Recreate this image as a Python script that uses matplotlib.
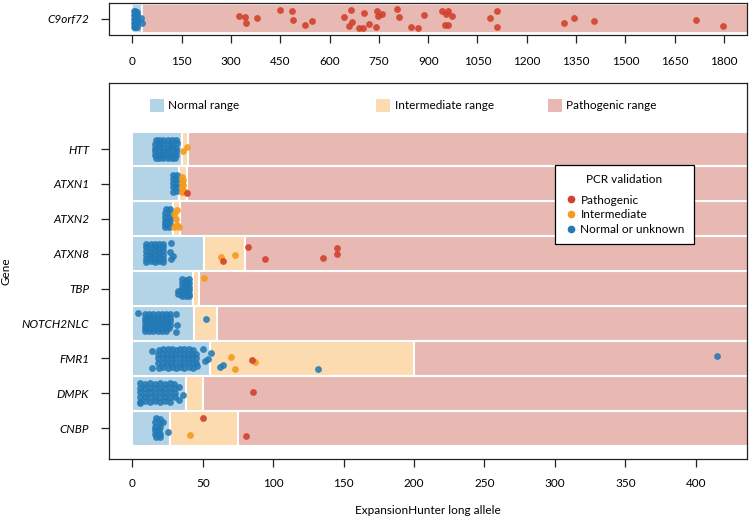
import matplotlib
matplotlib.use("Agg")
import matplotlib.pyplot as plt
from matplotlib.lines import Line2D
from matplotlib.patches import Rectangle

plt.rcParams['font.family'] = ['Lato', 'DejaVu Sans']

# ---------------- data ----------------
genes = ["CNBP", "DMPK", "FMR1", "NOTCH2NLC", "TBP", "ATXN8", "ATXN2", "ATXN1", "HTT"]
normal_max = [27, 38, 55, 44, 43, 51, 29, 33, 35.5]
intermediate_max = [75, 50, 200, 60, 47, 80, 34, 39, 39.5]

c9_gene = "C9orf72"
c9_normal_max = 30
c9_intermediate_max = 30

x_ticks_main = [0, 50, 100, 150, 200, 250, 300, 350, 400]
x_ticks_c9 = [0, 150, 300, 450, 600, 750, 900, 1050, 1200, 1350, 1500, 1650, 1800]

# (repeat length, vertical jitter) per gene and PCR category
c9_blue = [(4, 0.25), (9, 0.26), (13, 0.24), (5, 0.13), (9, 0.12), (13, 0.14),
           (4, 0.0), (9, 0.01), (13, -0.01), (5, -0.14), (9, -0.13), (13, -0.15),
           (4, -0.28), (9, -0.27), (13, -0.28), (27, 0.04), (29, -0.13)]
c9_red = [(325, 0.09), (344, 0.06), (347, -0.15), (380, 0.02), (448, 0.29), (485, 0.26),
          (490, -0.04), (526, -0.21), (548, -0.09), (645, 0.05), (666, 0.29), (669, -0.12),
          (660, -0.25), (688, -0.30), (703, -0.30), (704, 0.19), (721, -0.19), (743, 0.26),
          (748, 0.10), (759, 0.15), (741, -0.28), (805, 0.32), (812, 0.06), (847, -0.29),
          (870, -0.30), (888, 0.13), (943, 0.26), (960, 0.28), (955, 0.15), (973, 0.11),
          (951, -0.20), (961, -0.20), (1088, 0.04), (1109, 0.28), (1110, -0.29), (1314, -0.15),
          (1344, 0.04), (1403, -0.09), (1715, -0.05), (1798, -0.26)]

htt_blue = [(17, 0.26), (19, 0.27), (22, 0.25), (25, 0.26), (28, 0.27), (31, 0.25),
            (16, 0.15), (19, 0.14), (22, 0.16), (25, 0.15), (28, 0.14), (31.5, 0.16),
            (16, 0.04), (19, 0.05), (22, 0.03), (25, 0.04), (28, 0.05), (31, 0.03),
            (16, -0.06), (19, -0.07), (22, -0.05), (25, -0.06), (28, -0.07), (31, -0.06),
            (16, -0.17), (19, -0.16), (22, -0.18), (25, -0.17), (28, -0.16), (31, -0.17),
            (17, -0.27), (19, -0.26), (22, -0.27), (25, -0.26), (28, -0.27), (30.5, -0.26)]
htt_orange = [(38.8, 0.07), (36, -0.06)]
htt_red = []

atxn1_blue = [(29, 0.26), (31.5, 0.25), (28.5, 0.14), (31, 0.15), (29, 0.02), (31.5, 0.03),
              (28.5, -0.1), (31, -0.09), (29, -0.22), (31.5, -0.21)]
atxn1_orange = [(35, 0.2), (36, 0.12), (35, 0.04), (36, -0.04), (35, -0.12), (36, -0.19),
                (35.5, -0.23), (38.1, -0.22)]
atxn1_red = [(39.1, -0.27)]

atxn2_blue = [(24, 0.28), (26.5, 0.27), (23, 0.17), (26.5, 0.16), (23, 0.06), (26.5, 0.05),
              (23, -0.05), (26.5, -0.04), (23, -0.14), (26.5, -0.15), (23.5, -0.23), (26, -0.22)]
atxn2_orange = [(31.5, 0.24), (29.6, 0.13), (30.8, 0.0), (32, -0.17), (29.8, -0.24), (32.9, -0.22)]
atxn2_red = []

atxn8_blue = [(10, 0.29), (13, 0.28), (16, 0.29), (19, 0.28), (22, 0.29),
              (10, 0.18), (13, 0.17), (16, 0.18), (19, 0.17), (22, 0.18),
              (10, 0.07), (13, 0.06), (16, 0.07), (19, 0.06), (22, 0.07),
              (10, -0.04), (13, -0.03), (16, -0.04), (19, -0.03), (22, -0.04),
              (10, -0.14), (13, -0.13), (16, -0.14), (19, -0.13), (22, -0.14),
              (10, -0.23), (13, -0.22), (16, -0.23), (19, -0.22), (21.5, -0.23),
              (27.3, 0.3), (26.8, 0.05), (28.7, -0.06), (27.3, -0.15)]
atxn8_orange = [(63, -0.09), (72.9, -0.05)]
atxn8_red = [(64.2, -0.2), (82.1, 0.19), (94, -0.15), (135.2, -0.11), (145.1, 0.16), (145.1, -0.02)]

tbp_blue = [(35.5, 0.27), (38, 0.26), (40, 0.27), (35.5, 0.16), (38, 0.15), (40, 0.16),
            (35, 0.05), (38, 0.04), (40, 0.05), (32.5, -0.06), (35.5, -0.05), (38, -0.06),
            (40, -0.05), (32.5, -0.15), (35.5, -0.14), (38, -0.15), (40, -0.14),
            (35, -0.22), (38, -0.22), (40, -0.21)]
tbp_orange = [(51.1, 0.3)]
tbp_red = []

notch_blue = [(9, 0.27), (12, 0.26), (15, 0.27), (18, 0.26), (21, 0.27), (24, 0.26), (27, 0.27),
              (9, 0.17), (12, 0.16), (15, 0.17), (18, 0.16), (21, 0.17), (24, 0.16), (27, 0.17),
              (9, 0.07), (12, 0.06), (15, 0.07), (18, 0.06), (21, 0.07), (24, 0.06), (27, 0.07),
              (9, -0.03), (12, -0.04), (15, -0.03), (18, -0.04), (21, -0.03), (24, -0.04), (27, -0.03),
              (9, -0.13), (12, -0.12), (15, -0.13), (18, -0.12), (21, -0.13), (24, -0.12), (26, -0.13),
              (9, -0.22), (12, -0.21), (15, -0.22), (18, -0.21), (21, -0.22), (24, -0.21),
              (4, 0.3), (31, 0.28), (32, -0.05), (31, -0.24), (52.1, 0.12)]
notch_orange = []
notch_red = []

fmr1_blue = [(19, 0.25), (22, 0.27), (25, 0.26), (28, 0.27), (31, 0.25), (34, 0.27), (37, 0.26), (40, 0.27), (43, 0.25),
             (18.5, 0.14), (21.5, 0.13), (24.5, 0.14), (27.5, 0.13), (30.5, 0.14), (33.5, 0.13), (36.5, 0.14), (39.5, 0.13), (42.5, 0.14), (45.5, 0.13),
             (18.5, 0.0), (21.5, 0.01), (24.5, 0.0), (27.5, 0.01), (30.5, 0.0), (33.5, 0.01), (36.5, 0.0), (39.5, 0.01), (42.5, 0.0), (45.5, 0.01),
             (18.5, -0.13), (21.5, -0.12), (24.5, -0.13), (27.5, -0.12), (30.5, -0.13), (33.5, -0.12), (36.5, -0.13), (39.5, -0.12), (42.5, -0.13), (45.5, -0.12),
             (19, -0.26), (22, -0.25), (25, -0.26), (28, -0.25), (31, -0.26), (34, -0.25), (37, -0.26), (40, -0.25), (43, -0.26),
             (14, 0.22), (14, -0.27), (50.4, 0.27), (55.9, 0.16), (54, -0.02), (51.6, -0.07),
             (45.7, -0.21), (62.3, -0.24), (64.2, -0.18), (131.8, -0.3), (415, 0.08)]
fmr1_orange = [(70.1, 0.03), (87.1, -0.11), (72.9, -0.3)]
fmr1_red = [(85, -0.05)]

dmpk_blue = [(5.5, 0.29), (9, 0.28), (12.5, 0.29), (16, 0.28), (19.5, 0.29), (23, 0.28), (26.5, 0.29), (29.5, 0.27),
             (5.5, 0.16), (9, 0.15), (12.5, 0.16), (16, 0.15), (19.5, 0.16), (23, 0.15), (26.5, 0.16), (30, 0.15),
             (5.5, 0.03), (9, 0.02), (12.5, 0.03), (16, 0.02), (19.5, 0.03), (23, 0.02), (26.5, 0.03), (30, 0.02),
             (5.5, -0.11), (9, -0.1), (12.5, -0.11), (16, -0.1), (19.5, -0.11), (23, -0.1), (26.5, -0.11), (30, -0.1),
             (5.5, -0.24), (9, -0.23), (12.5, -0.24), (16, -0.23), (19.5, -0.24), (23, -0.23), (26.5, -0.24),
             (32.9, 0.19), (36.2, -0.05), (32.9, -0.19), (5.5, -0.27)]
dmpk_orange = []
dmpk_red = [(85.9, 0.05)]

cnbp_blue = [(16.5, 0.29), (19.5, 0.28), (16, 0.17), (19.5, 0.16), (16, 0.05), (19.5, 0.04),
             (16, -0.06), (19, -0.05), (16, -0.16), (19.5, -0.15), (16.5, -0.25), (19.5, -0.24),
             (25.1, -0.1), (22, 0.19)]
cnbp_orange = [(41, -0.19)]
cnbp_red = [(50, 0.3), (80.7, -0.22)]

blue_pts = [cnbp_blue, dmpk_blue, fmr1_blue, notch_blue, tbp_blue, atxn8_blue, atxn2_blue, atxn1_blue, htt_blue]
orange_pts = [cnbp_orange, dmpk_orange, fmr1_orange, notch_orange, tbp_orange, atxn8_orange, atxn2_orange, atxn1_orange, htt_orange]
red_pts = [cnbp_red, dmpk_red, fmr1_red, notch_red, tbp_red, atxn8_red, atxn2_red, atxn1_red, htt_red]

range_labels = ["Normal range", "Intermediate range", "Pathogenic range"]
pcr_labels = ["Pathogenic", "Intermediate", "Normal or unknown"]

# ---------------- style ----------------
col_normal = '#b3d3e7'
col_inter = '#fbdbaf'
col_patho = '#e8b9b2'
col_blue = '#2279b5'
col_orange = '#f59a1b'
col_red = '#d1412d'
FS = 8.5

fig = plt.figure(figsize=(7.5, 5.23), dpi=100)
W, H = 750, 523
ax_top = fig.add_axes([108.7 / W, 1 - 34.5 / H, (746.7 - 108.7) / W, 31.5 / H])
ax = fig.add_axes([108.7 / W, 1 - 459 / H, (746.7 - 108.7) / W, (459 - 82.7) / H])


def draw_points(a, pos, pts, color, alpha, z):
    if not pts:
        return
    xs = [p[0] for p in pts]
    ys = [pos + p[1] for p in pts]
    a.scatter(xs, ys, s=24, color=color, alpha=alpha, linewidths=0, zorder=z)


def style_axes(a):
    for sp in a.spines.values():
        sp.set_linewidth(0.9)
        sp.set_color('#222222')
    a.tick_params(axis='both', length=6, width=0.9, color='#222222', labelsize=FS, pad=8)


# top panel
ax_top.barh([1], [c9_normal_max], left=0, height=1, color=col_normal, edgecolor='white', linewidth=1.2, zorder=1)
ax_top.barh([1], [c9_intermediate_max - c9_normal_max], left=c9_normal_max, height=1,
            color=col_inter, edgecolor='white', linewidth=1.2, zorder=1)
ax_top.barh([1], [3000 - c9_intermediate_max], left=c9_intermediate_max, height=1,
            color=col_patho, edgecolor='white', linewidth=1.2, zorder=1)
draw_points(ax_top, 1, c9_blue, col_blue, 0.88, 3)
draw_points(ax_top, 1, c9_red, col_red, 0.9, 5)
ax_top.set_xlim(-72, 1869)
ax_top.set_ylim(0.465, 1.535)
ax_top.set_yticks([1])
ax_top.set_yticklabels([c9_gene], fontstyle='italic')
ax_top.set_xticks(x_ticks_c9)
style_axes(ax_top)
ax_top.tick_params(axis='x', pad=9.5)

# main panel
pos = list(range(1, len(genes) + 1))
ax.barh(pos, normal_max, left=0, height=1, color=col_normal, edgecolor='white', linewidth=1.5, zorder=1)
ax.barh(pos, [i - n for i, n in zip(intermediate_max, normal_max)], left=normal_max, height=1,
        color=col_inter, edgecolor='white', linewidth=1.5, zorder=1)
ax.barh(pos, [3000 - i for i in intermediate_max], left=intermediate_max, height=1,
        color=col_patho, edgecolor='white', linewidth=1.5, zorder=1)
for p, b, o, r in zip(pos, blue_pts, orange_pts, red_pts):
    draw_points(ax, p, b, col_blue, 0.88, 3)
    draw_points(ax, p, o, col_orange, 0.9, 4)
    draw_points(ax, p, r, col_red, 0.9, 5)

ax.set_xlim(-16.8, 436.2)
ax.set_ylim(0.12, 10.9)
ax.set_yticks(pos)
ax.set_yticklabels(genes, fontstyle='italic')
ax.set_xticks(x_ticks_main)
style_axes(ax)
ax.set_xlabel("ExpansionHunter long allele", fontsize=FS, labelpad=11)
ax.set_ylabel("Gene", fontsize=FS)
ax.yaxis.set_label_coords(-0.152, 0.5)

# range legend (top of main panel)
aw, ah = 746.7 - 108.7, 459 - 82.7
for (sx, tx), c, lab in zip([(150, 168), (376, 395), (548, 566)], [col_normal, col_inter, col_patho], range_labels):
    ax.add_patch(Rectangle(((sx - 108.7) / aw, (459 - 112) / ah), 14 / aw, 13 / ah,
                           transform=ax.transAxes, facecolor=c, edgecolor='none', zorder=6, clip_on=False))
    ax.text((tx - 108.7) / aw, (459 - 105.5) / ah, lab, transform=ax.transAxes,
            ha='left', va='center', fontsize=FS, zorder=6)

# PCR validation legend
handles = [Line2D([], [], marker='o', linestyle='', color=c, markersize=4.5)
           for c in [col_red, col_orange, col_blue]]
leg = ax.legend(handles, pcr_labels, title="PCR validation", loc='upper left',
                bbox_to_anchor=((555 - 108.7) / aw, (459 - 165) / ah), fontsize=FS, title_fontsize=FS,
                frameon=True, fancybox=False, framealpha=1, edgecolor='black', borderpad=0.75,
                handletextpad=0.2, labelspacing=0.3, handlelength=1.2, borderaxespad=0)
leg.get_frame().set_linewidth(0.9)
leg.set_zorder(10)
leg._legend_box.sep = 7

fig.savefig("out.png", dpi=100)
